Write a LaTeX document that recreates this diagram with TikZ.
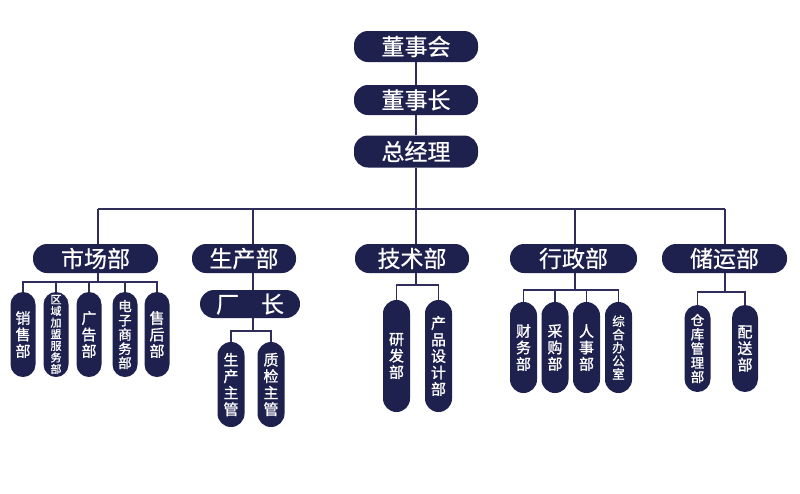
\documentclass[tikz,border=0pt]{standalone}
\usepackage{fontspec}
\newfontfamily\cjk[FakeBold=0.6]{Noto Sans CJK SC}
\newfontfamily\cjkv[FakeBold=1.2]{Noto Sans CJK SC}
\definecolor{navy}{RGB}{30,32,78}
\definecolor{linec}{RGB}{48,44,92}
\begin{document}
\begin{tikzpicture}[x=1pt,y=-1pt,
  hbox/.style={fill=navy,text=white,inner sep=0pt,rounded corners=14pt,font=\cjk\fontsize{23}{23}\selectfont},
  vbox/.style={fill=navy,text=white,inner sep=0pt,minimum width=26pt,rounded corners=13pt,align=center,font=\cjkv\fontsize{15}{16.5}\selectfont},
  conn/.style={draw=linec,line width=1.5pt}]
\useasboundingbox[fill=white] (0,0) rectangle (800,493);

% top chain
\node[hbox,minimum width=124pt,minimum height=31pt] (dsh) at (416,46.5) {董事会};
\node[hbox,minimum width=124pt,minimum height=30pt] (dsz) at (416,100) {董事长};
\node[hbox,minimum width=124pt,minimum height=32pt] (zjl) at (416,151.5) {总经理};

% bus coordinates
\coordinate (bA) at (98,209);
\coordinate (bB) at (253,209);
\coordinate (bC) at (416,209);
\coordinate (bD) at (575,209);
\coordinate (bE) at (725,209);

% departments
\node[hbox,minimum width=125pt,minimum height=29pt] (sc) at (95.5,258.5) {市场部};
\node[hbox,minimum width=104pt,minimum height=29pt] (scb) at (244,258.5) {生产部};
\node[hbox,minimum width=114pt,minimum height=29pt] (js) at (412,258.5) {技术部};
\node[hbox,minimum width=127pt,minimum height=29pt] (xz) at (573.5,258.5) {行政部};
\node[hbox,minimum width=125pt,minimum height=29pt] (cy) at (724.5,258.5) {储运部};
\node[hbox,minimum width=100pt,minimum height=28pt] (cz) at (250,304) {厂\hspace{22pt}长};

% market subs
\node[vbox,minimum width=25pt,minimum height=85pt,rounded corners=12.5pt] (s1) at (23,334.5) {销\\售\\部};
\node[vbox,minimum width=25pt,minimum height=85pt,rounded corners=12.5pt,font=\cjkv\fontsize{11}{11.6}\selectfont] (s2) at (56,334.5) {区\\域\\加\\盟\\服\\务\\部};
\node[vbox,minimum width=25pt,minimum height=85pt,rounded corners=12.5pt] (s3) at (89,334.5) {广\\告\\部};
\node[vbox,minimum width=25pt,minimum height=85pt,rounded corners=12.5pt,font=\cjkv\fontsize{13.5}{14.2}\selectfont] (s4) at (125,334.5) {电\\子\\商\\务\\部};
\node[vbox,minimum width=25pt,minimum height=85pt,rounded corners=12.5pt] (s5) at (157,334.5) {售\\后\\部};

% production subs
\node[vbox,minimum width=27pt,minimum height=85pt,rounded corners=13.5pt,font=\cjkv\fontsize{15}{16.5}\selectfont] (p1) at (231,384.5) {生\\产\\主\\管};
\node[vbox,minimum width=27pt,minimum height=85pt,rounded corners=13.5pt,font=\cjkv\fontsize{15}{16.5}\selectfont] (p2) at (271,384.5) {质\\检\\主\\管};

% tech subs
\node[vbox,minimum width=27pt,minimum height=112pt,rounded corners=13.5pt] (j1) at (396.5,356) {研\\发\\部};
\node[vbox,minimum width=27pt,minimum height=112pt,rounded corners=13.5pt,font=\cjkv\fontsize{15}{16.5}\selectfont] (j2) at (438.5,356) {产\\品\\设\\计\\部};

% admin subs
\node[vbox,minimum width=27pt,minimum height=91pt,rounded corners=13.5pt] (x1) at (523.5,347.5) {财\\务\\部};
\node[vbox,minimum width=27pt,minimum height=91pt,rounded corners=13.5pt] (x2) at (555,347.5) {采\\购\\部};
\node[vbox,minimum width=27pt,minimum height=91pt,rounded corners=13.5pt] (x3) at (586.5,347.5) {人\\事\\部};
\node[vbox,minimum width=27pt,minimum height=91pt,rounded corners=13.5pt,font=\cjkv\fontsize{12.5}{13.2}\selectfont] (x4) at (618.5,347.5) {综\\合\\办\\公\\室};

% storage subs
\node[vbox,minimum width=26pt,minimum height=87pt,rounded corners=13pt,font=\cjkv\fontsize{13.5}{14.2}\selectfont] (c1) at (697.5,348.5) {仓\\库\\管\\理\\部};
\node[vbox,minimum width=26pt,minimum height=87pt,rounded corners=13pt] (c2) at (745,348.5) {配\\送\\部};

% junctions
\coordinate (jA) at (98,282);
\coordinate (jB) at (253,331);
\coordinate (jC) at (416,285);
\coordinate (jD) at (575,290);
\coordinate (jE) at (725,292);

% top connectors
\draw[conn] (dsh) -- (dsz);
\draw[conn] (dsz) -- (zjl);
\draw[conn] (zjl) -- (bC);
\draw[conn] (bA) -- (bE);
\draw[conn] (bA) -- (bA |- sc.north);
\draw[conn] (bB) -- (bB |- scb.north);
\draw[conn] (bC) -- (bC |- js.north);
\draw[conn] (bD) -- (bD |- xz.north);
\draw[conn] (bE) -- (bE |- cy.north);

% market
\draw[conn] (jA |- sc.south) -- (jA);
\draw[conn] (s1.north) |- (jA) -| (s5.north);
\draw[conn] (s2) -- (s2 |- jA);
\draw[conn] (s3) -- (s3 |- jA);
\draw[conn] (s4) -- (s4 |- jA);

% production
\draw[conn] (jB |- scb.south) -- (jB |- cz.north);
\draw[conn] (jB |- cz.south) -- (jB);
\draw[conn] (p1.north) |- (jB) -| (p2.north);

% tech
\draw[conn] (jC |- js.south) -- (jC);
\draw[conn] (j1.north) |- (jC) -| (j2.north);

% admin
\draw[conn] (jD |- xz.south) -- (jD);
\draw[conn] (x1.north) |- (jD) -| (x4.north);
\draw[conn] (x2) -- (x2 |- jD);
\draw[conn] (x3) -- (x3 |- jD);

% storage
\draw[conn] (jE |- cy.south) -- (jE);
\draw[conn] (c1.north) |- (jE) -| (c2.north);
\end{tikzpicture}
\end{document}
